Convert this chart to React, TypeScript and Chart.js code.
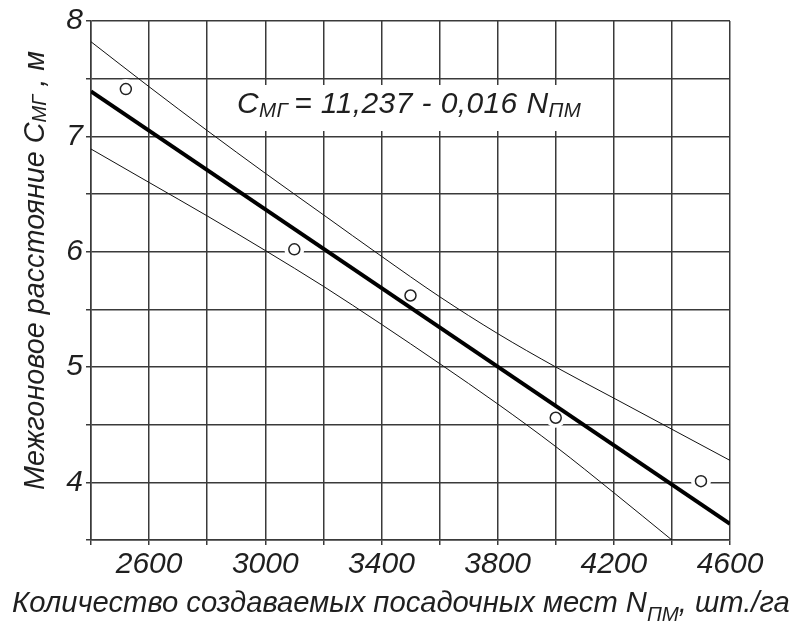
import React, { useEffect, useRef } from 'react';
import { Chart, registerables } from 'chart.js';

Chart.register(...registerables);

// ---- data ----
const observedN = [2520, 3100, 3500, 4000, 4500];
const observedC = [7.41, 6.02, 5.62, 4.56, 4.01];

const regressionN = [2400, 4600];
const regressionC = [7.39, 3.64];

const upperN = [2400, 2600, 2800, 3000, 3200, 3400, 3600, 3800, 4000, 4200, 4400, 4600];
const upperC = [7.82, 7.43, 7.05, 6.68, 6.32, 5.96, 5.61, 5.29, 5.0, 4.73, 4.46, 4.19];

const lowerN = [2400, 2600, 2800, 3000, 3200, 3400, 3600, 3800, 4000, 4200, 4400];
const lowerC = [6.89, 6.6, 6.31, 6.01, 5.7, 5.37, 5.03, 4.68, 4.31, 3.91, 3.5];

const xTickLabels = [2600, 3000, 3400, 3800, 4200, 4600];
const yTickLabels = [4, 5, 6, 7, 8];
const xRange = [2400, 4600];
const yRange = [3.5, 8];
const xStep = 200;
const yStep = 0.5;

const equationParts = [
  { t: 'C' },
  { t: 'МГ ', sub: true },
  { t: '= 11,237 - 0,016 N' },
  { t: 'ПМ', sub: true },
];
const xTitleParts = [
  { t: 'Количество создаваемых посадочных мест N' },
  { t: 'ПМ', sub: true },
  { t: ', шт./га' },
];
const yTitleParts = [
  { t: 'Межгоновое расстояние C' },
  { t: 'МГ', sub: true },
  { t: ' , м' },
];

const FAMILY = '"Liberation Sans", Arial, sans-serif';
const TEXT = '#1f1f1f';
const GRID = '#3a3a3a';

type Part = { t: string; sub?: boolean };

function drawRich(
  ctx: CanvasRenderingContext2D,
  parts: Part[],
  x: number,
  y: number,
  mainSize: number,
  subSize: number,
  subDy: number,
  spacing: number
) {
  let cx = x;
  (ctx as any).letterSpacing = `${spacing}px`;
  for (const p of parts) {
    ctx.font = `italic ${p.sub ? subSize : mainSize}px ${FAMILY}`;
    ctx.fillText(p.t, cx, p.sub ? y + subDy : y);
    cx += ctx.measureText(p.t).width;
  }
  (ctx as any).letterSpacing = '0px';
  return cx;
}

const toXY = (xs: number[], ys: number[]) => xs.map((x, i) => ({ x, y: ys[i] }));

const textPlugin = {
  id: 'richText',
  beforeDatasetsDraw(chart: any) {
    const ctx = chart.ctx as CanvasRenderingContext2D;
    ctx.save();
    ctx.fillStyle = '#ffffff';
    ctx.fillRect(220, 85, 382, 46);
    ctx.restore();
  },
  afterDraw(chart: any) {
    const ctx = chart.ctx as CanvasRenderingContext2D;
    ctx.save();
    ctx.fillStyle = TEXT;
    ctx.textBaseline = 'alphabetic';
    ctx.textAlign = 'left';
    // equation
    drawRich(ctx, equationParts, 237, 113, 30, 20.5, 4, 0.4);
    // x title
    drawRich(ctx, xTitleParts, 12, 612, 29.2, 20.5, 9, 0);
    // y title (rotated)
    ctx.translate(44, 490);
    ctx.rotate(-Math.PI / 2);
    drawRich(ctx, yTitleParts, 0, 0, 28.8, 20, 2, 0);
    ctx.restore();
  },
};

export default function App() {
  const ref = useRef<HTMLCanvasElement | null>(null);

  useEffect(() => {
    if (!ref.current) return;
    const chart = new Chart(ref.current, {
      type: 'scatter',
      data: {
        datasets: [
          {
            label: 'halo',
            data: toXY(observedN, observedC),
            pointRadius: 10,
            pointBackgroundColor: '#ffffff',
            pointBorderWidth: 0,
            showLine: false,
            order: 10,
          },
          {
            label: 'upper',
            data: toXY(upperN, upperC),
            showLine: true,
            borderColor: '#111',
            borderWidth: 1,
            pointRadius: 0,
            cubicInterpolationMode: 'monotone',
            order: 5,
          },
          {
            label: 'lower',
            data: toXY(lowerN, lowerC),
            showLine: true,
            borderColor: '#111',
            borderWidth: 1,
            pointRadius: 0,
            cubicInterpolationMode: 'monotone',
            order: 5,
          },
          {
            label: 'regression',
            data: toXY(regressionN, regressionC),
            showLine: true,
            borderColor: '#000',
            borderWidth: 4,
            pointRadius: 0,
            order: 4,
          },
          {
            label: 'observed',
            data: toXY(observedN, observedC),
            showLine: false,
            pointRadius: 5.5,
            pointBorderWidth: 1.5,
            pointBorderColor: '#222',
            pointBackgroundColor: '#ffffff',
            order: 0,
          },
        ] as any,
      },
      options: {
        animation: false,
        responsive: false,
        maintainAspectRatio: false,
        layout: { padding: { top: 17, right: 68, left: 0, bottom: 0 } },
        plugins: { legend: { display: false }, tooltip: { enabled: false } },
        scales: {
          x: {
            type: 'linear',
            min: xRange[0],
            max: xRange[1],
            afterFit: (s: any) => {
              s.height = 83;
            },
            ticks: {
              stepSize: xStep,
              autoSkip: false,
              maxRotation: 0,
              padding: 2,
              color: TEXT,
              font: { family: FAMILY, size: 30, style: 'italic' },
              callback: (v: any) => (xTickLabels.includes(Number(v)) ? String(v) : ''),
            },
            grid: { color: GRID, lineWidth: 1.5, tickLength: 5, tickColor: GRID, drawTicks: true },
            border: { color: GRID, width: 1.5 },
          },
          y: {
            type: 'linear',
            min: yRange[0],
            max: yRange[1],
            afterFit: (s: any) => {
              s.width = 91;
            },
            ticks: {
              stepSize: yStep,
              autoSkip: false,
              padding: 3,
              color: TEXT,
              font: { family: FAMILY, size: 30, style: 'italic' },
              callback: (v: any) => (yTickLabels.includes(Number(v)) ? String(v) : ''),
            },
            grid: { color: GRID, lineWidth: 1.5, tickLength: 5, tickColor: GRID, drawTicks: true },
            border: { color: GRID, width: 1.5 },
          },
        },
      },
      plugins: [textPlugin],
    });
    return () => chart.destroy();
  }, []);

  return (
    <div style={{ position: 'fixed', left: 0, top: 0, width: 798, height: 623, background: '#fff' }}>
      <canvas ref={ref} width={798} height={623} style={{ width: 798, height: 623 }} />
    </div>
  );
}
